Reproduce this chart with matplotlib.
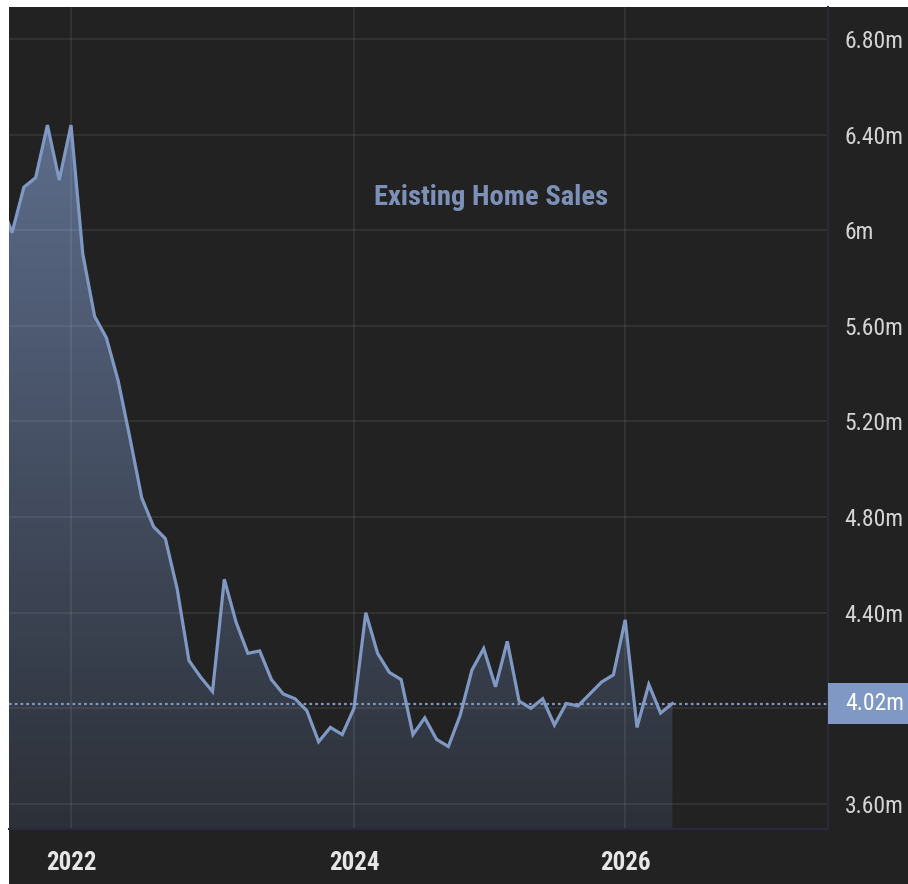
import numpy as np
import matplotlib
matplotlib.use("Agg")
import matplotlib.pyplot as plt
import matplotlib.transforms as mtransforms
from matplotlib import font_manager as fm
from matplotlib.colors import LinearSegmentedColormap
from matplotlib.patches import PathPatch, Rectangle

# monthly existing home sales, millions (2021-07 .. 2026-04), bar-indexed x axis
months = ["2021-07", "2021-08", "2021-09", "2021-10", "2021-11", "2021-12",
          "2022-01", "2022-02", "2022-03", "2022-04", "2022-05", "2022-06",
          "2022-07", "2022-08", "2022-09", "2022-10", "2022-11", "2022-12",
          "2023-01", "2023-02", "2023-03", "2023-04", "2023-05", "2023-06",
          "2023-07", "2023-08", "2023-09", "2023-10", "2023-11", "2023-12",
          "2024-01", "2024-02", "2024-03", "2024-04", "2024-05", "2024-06",
          "2024-07", "2024-08", "2024-09", "2024-10", "2024-11", "2024-12",
          "2025-01", "2025-02", "2025-03", "2025-04", "2025-05", "2025-06",
          "2025-07", "2025-08", "2025-09", "2025-10", "2025-11", "2025-12",
          "2026-01", "2026-02", "2026-03", "2026-04"]
sales = [6.12, 5.99, 6.18, 6.22, 6.44, 6.21,
         6.44, 5.90, 5.64, 5.55, 5.37, 5.13,
         4.88, 4.76, 4.71, 4.50, 4.20, 4.13,
         4.07, 4.54, 4.36, 4.23, 4.24, 4.12,
         4.06, 4.04, 3.99, 3.86, 3.92, 3.89,
         4.00, 4.40, 4.23, 4.15, 4.12, 3.89,
         3.96, 3.87, 3.84, 3.97, 4.16, 4.25,
         4.09, 4.28, 4.03, 4.00, 4.04, 3.93,
         4.02, 4.01, 4.06, 4.11, 4.14, 4.37,
         3.92, 4.10, 3.98, 4.02]
last_value = 4.02

year_tick_bars = [6, 30, 53]
year_labels = ["2022", "2024", "2026"]
y_ticks = [3.6, 4.0, 4.4, 4.8, 5.2, 5.6, 6.0, 6.4, 6.8]
y_labels = ["3.60m", "", "4.40m", "4.80m", "5.20m", "5.60m", "6m", "6.40m", "6.80m"]

# pick a narrow font if one is installed
avail = {f.name for f in fm.fontManager.ttflist}
font = "DejaVu Sans"
for cand in ["Liberation Sans Narrow", "Roboto Condensed", "Open Sans Condensed"]:
    if cand in avail:
        font = cand
        break
narrow = font != "DejaVu Sans"
stretch = "normal" if narrow else "condensed"
k = 1.0 if narrow else 0.82

BG = "#222222"
LINE = "#7f99c4"

fig = plt.figure(figsize=(9.08, 8.84), dpi=100)
fig.patch.set_facecolor("white")
fig.patches.append(Rectangle((9 / 908, 0), 1, (884 - 7) / 884, transform=fig.transFigure,
                             facecolor=BG, edgecolor="none", zorder=-10))

ax = fig.add_axes([9 / 908, 55 / 884, 819 / 908, 822 / 884])
ax.set_facecolor(BG)

x = np.arange(len(sales))
ymin, ymax = 3.495, 6.934
xmin, xmax = 0.74, 70.2

# gradient fill below the line
poly = ax.fill_between(x, sales, ymin, facecolor="none", edgecolor="none")
clip = PathPatch(poly.get_paths()[0], transform=ax.transData, facecolor="none", edgecolor="none")
ax.add_patch(clip)
cmap = LinearSegmentedColormap.from_list("fillgrad", ["#2c3038", "#5c6c8a"])
grad = np.linspace(0, 1, 256).reshape(-1, 1)
im = ax.imshow(grad, extent=[x[0], x[-1], ymin, max(sales)], origin="lower",
               aspect="auto", cmap=cmap, zorder=1)
im.set_clip_path(clip)

ax.plot(x, sales, color=LINE, lw=2.3, zorder=4, solid_joinstyle="miter")
ax.axhline(last_value, color=LINE, lw=1.6, ls=(0, (1.2, 1.4)), zorder=3)

ax.set_xlim(xmin, xmax)
ax.set_ylim(ymin, ymax)

ax.set_yticks(y_ticks)
ax.set_yticklabels(y_labels)
ax.set_xticks(year_tick_bars)
ax.set_xticklabels(year_labels)
ax.yaxis.tick_right()
ax.grid(True, color="white", alpha=0.07, lw=1.5)
for gl in ax.get_xgridlines() + ax.get_ygridlines():
    gl.set_zorder(2)

ax.tick_params(axis="y", length=0, pad=12, labelcolor="#d4d4d4", labelsize=17 * k)
ax.tick_params(axis="x", length=0, pad=16, labelcolor="#e6e6e6", labelsize=18 * k)
for lab in ax.get_yticklabels():
    lab.set_fontfamily(font)
    lab.set_fontstretch(stretch)
for lab in ax.get_xticklabels():
    lab.set_fontfamily(font)
    lab.set_fontstretch(stretch)
    lab.set_fontweight("bold")

for side in ["top", "left"]:
    ax.spines[side].set_visible(False)
for side in ["right", "bottom"]:
    ax.spines[side].set_color("#2b2940")
    ax.spines[side].set_linewidth(1.5)

# last value badge on the price axis
trans = mtransforms.blended_transform_factory(ax.transAxes, ax.transData)
ax.add_patch(Rectangle((1.0, last_value - 0.0858), 0.0977, 0.1716, transform=trans,
                       facecolor="#7f99c4", edgecolor="none", clip_on=False, zorder=10))
ax.text(1.0208, last_value, "%.2fm" % last_value, transform=trans, ha="left", va="center",
        color="white", fontsize=17 * k, family=font, fontstretch=stretch, zorder=11)

ax.text(0.589, 0.768, "Existing Home Sales", transform=ax.transAxes, ha="center", va="center",
        color="#7c90b8", fontsize=20.5 * k, fontweight="bold", family=font,
        fontstretch=stretch, zorder=5)

fig.savefig("out.png", dpi=100, facecolor=fig.get_facecolor())
